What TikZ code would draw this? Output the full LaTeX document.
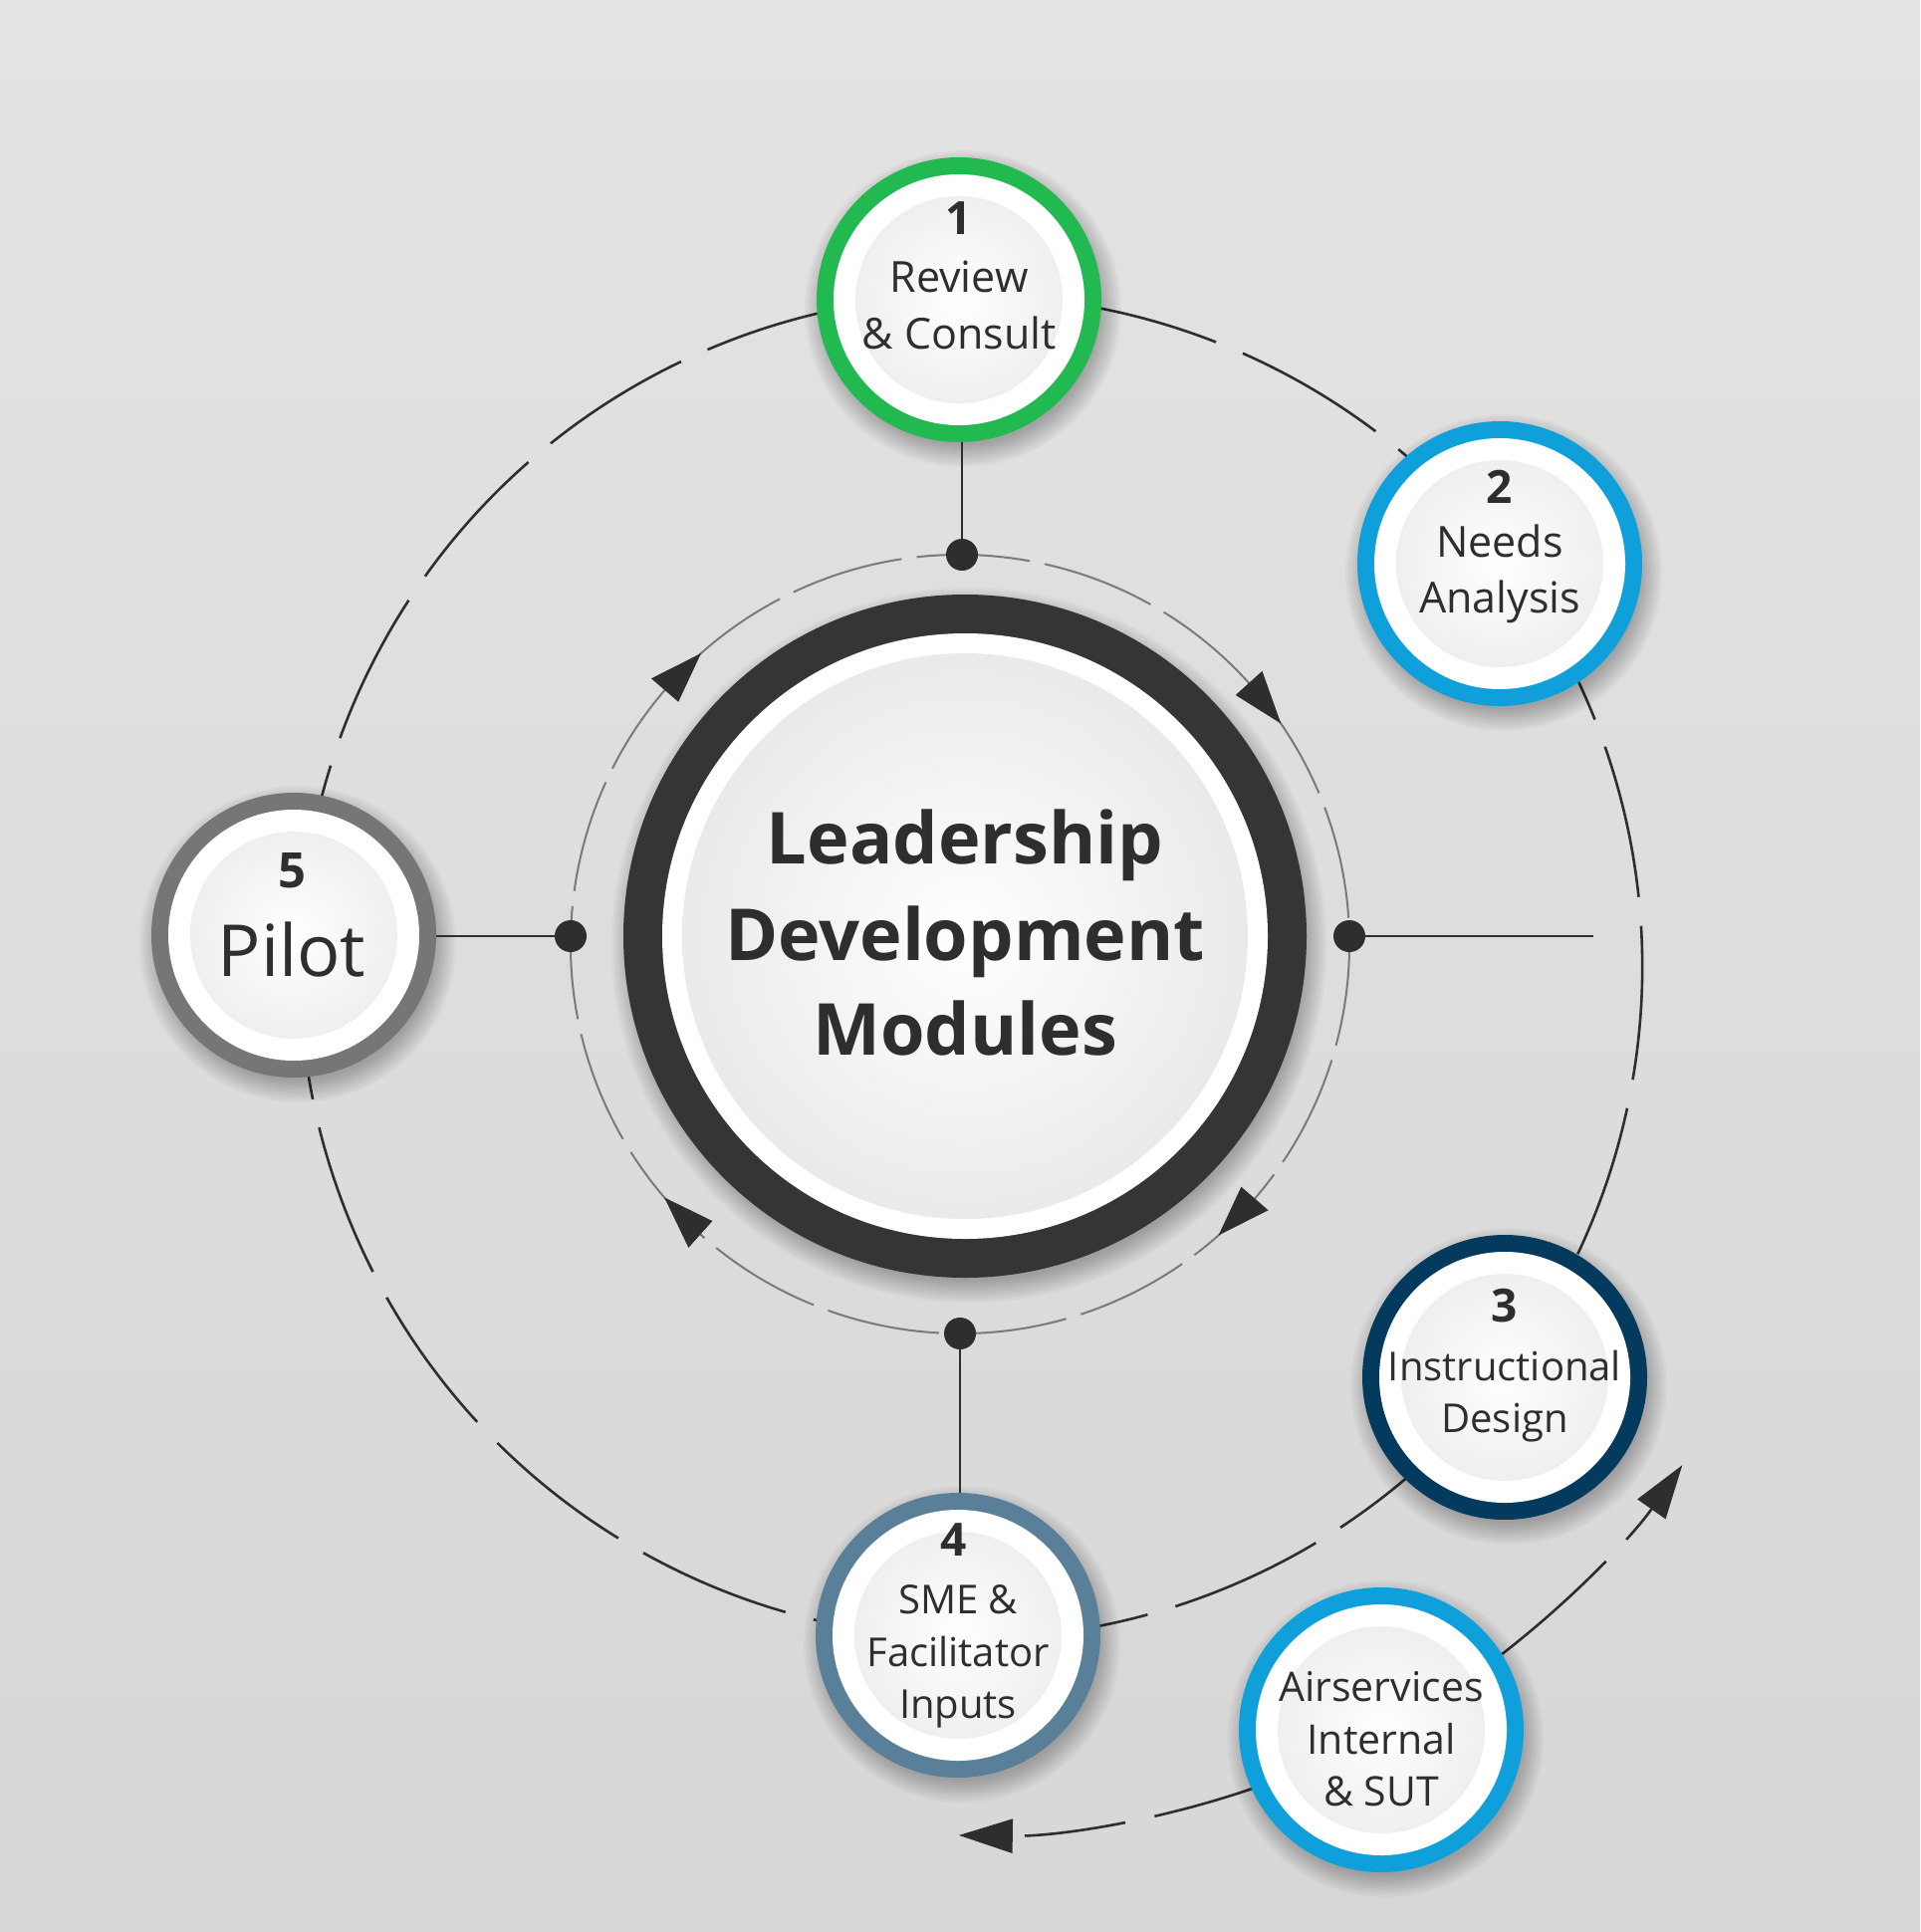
\documentclass[tikz,border=0pt]{standalone}
\usepackage{fontspec}
\setmainfont{Open Sans}
\usetikzlibrary{arrows.meta,calc}
\definecolor{bgtop}{HTML}{E3E3E3}
\definecolor{bgbot}{HTML}{D7D7D7}
\definecolor{ink}{HTML}{2E2E2E}
\definecolor{cgreen}{HTML}{22B950}
\definecolor{cblue}{HTML}{0FA0DC}
\definecolor{cnavy}{HTML}{033A5E}
\definecolor{csteel}{HTML}{5A7F99}
\definecolor{cgray}{HTML}{767676}
\definecolor{ringdark}{HTML}{353535}
\definecolor{diskedge}{HTML}{EFEFEF}
\definecolor{hubedge}{HTML}{EAEAEA}
\definecolor{dashgray}{HTML}{7A7A7A}
\tikzset{
  stepring/.style={circle, minimum size=286pt, inner sep=0pt, fill=#1},
  dotnode/.style={circle, minimum size=32pt, inner sep=0pt, fill=ink},
  link/.style={draw=ink, line width=1.6pt},
  orbit/.style={draw=ink, line width=2.6pt},
  innerorbit/.style={draw=dashgray, line width=2pt},
  numtxt/.style={font=\bfseries\fontsize{46}{46}\selectfont, text=ink, anchor=base, inner sep=0pt},
  steptxt/.style={font=\fontsize{#1}{#1}\selectfont, text=ink, anchor=base, inner sep=0pt},
  steptxt/.default=43,
  titletxt/.style={font=\bfseries\fontsize{72}{72}\selectfont, text=ink, anchor=base, inner sep=0pt},
  headtip/.style={-{Triangle[length=54pt,width=34pt]}},
}
\newcommand\softshadow[3]{%
  \foreach \k in {1,...,12}{\fill[black,opacity=0.022] (#1+4,#2-9) circle[radius={#3-8+2*\k}];}}
\newcommand\stepdisk[4]{%
  \softshadow{#2}{#3}{143}
  \node[stepring=#4] (#1) at (#2,#3) {};
  \fill[white] (#1.center) circle[radius=126pt];
  \shade[inner color=white, outer color=diskedge] (#1.center) circle[radius=104pt];
}
\begin{document}
\begin{tikzpicture}[x=1pt,y=1pt]
\shade[top color=bgtop, bottom color=bgbot] (0,0) rectangle (1928,-1940);
\useasboundingbox (0,0) rectangle (1928,-1940);
\coordinate (O) at (975,-971);
\coordinate (IC) at (964,-948);
% outer orbit
\draw[orbit, dash pattern=on 155pt off 29.12pt] ([shift={(113.06:674)}]O) arc[start angle=113.06, end angle=-246.94, radius=674];
% external arcs
\draw[orbit, dash pattern=on 140pt off 30pt, headtip] ([shift={(-52.3:872)}]O) arc[start angle=-52.3, end angle=-35, radius=872];
\draw[orbit, dash pattern=on 102pt off 30pt, headtip] ([shift={(-71.1:872)}]O) arc[start angle=-71.1, end angle=-90.8, radius=872];
% inner orbit
\draw[innerorbit, dash pattern=on 114pt off 15.3pt] ([shift={(77.4:391)}]IC) arc[start angle=77.4, end angle=-282.6, radius=391];
\foreach \a in {34.5,-48.4,-139.4,131.7}
  \fill[ink] ([shift={(\a:391)}]IC) -- ([shift={({\a+7.6}:373)}]IC) -- ([shift={({\a+7.6}:409)}]IC) -- cycle;
% hub
\softshadow{969}{-940}{343}
\node[circle, minimum size=686pt, inner sep=0pt, fill=ringdark] (hub) at (969,-940) {};
\fill[white] (hub.center) circle[radius=304pt];
\shade[inner color=white, outer color=hubedge] (hub.center) circle[radius=284pt];
% steps
\stepdisk{s1}{963}{-301}{cgreen}
\stepdisk{s2}{1506}{-566}{cblue}
\stepdisk{s3}{1511}{-1383}{cnavy}
\stepdisk{s4}{962}{-1642}{csteel}
\stepdisk{s5}{295}{-939}{cgray}
\stepdisk{s6}{1387}{-1737}{cblue}
% dots and links
\node[dotnode] (d1) at (966,-557) {};
\node[dotnode] (d2) at (1355,-940) {};
\node[dotnode] (d3) at (964,-1339) {};
\node[dotnode] (d4) at (573,-940) {};
\coordinate (e2) at (1600,-940);
\draw[link] (d1) -- (d1 |- s1.south);
\draw[link] (d3) -- (d3 |- s4.north);
\draw[link] (d4) -- (d4 -| s5.east);
\draw[link] (d2) -- (e2);
% texts
\node[titletxt] (h1) at (969,-867) {Leadership};
\node[titletxt] (h2) at (969,-964) {Development};
\node[titletxt] (h3) at (969,-1059) {Modules};
\node[numtxt] (n1) at (963,-235) {1};
\node[steptxt] (t1a) at (963,-293) {Review};
\node[steptxt] (t1b) at (963,-350) {\& Consult};
\node[numtxt] (n2) at (1506,-505) {2};
\node[steptxt] (t2a) at (1506,-559) {Needs};
\node[steptxt] (t2b) at (1506,-615) {Analysis};
\node[numtxt] (n3) at (1511,-1327) {3};
\node[steptxt=40] (t3a) at (1511,-1386) {Instructional};
\node[steptxt=40] (t3b) at (1511,-1438) {Design};
\node[numtxt] (n4) at (958,-1562) {4};
\node[steptxt=40] (t4a) at (962,-1620) {SME \&};
\node[steptxt=40] (t4b) at (962,-1673) {Facilitator};
\node[steptxt=40] (t4c) at (962,-1725) {Inputs};
\node[numtxt, font=\bfseries\fontsize{49}{49}\selectfont] (n5) at (293,-891) {5};
\node[steptxt=72] (t5a) at (293,-980) {Pilot};
\node[steptxt=41] (t6a) at (1387,-1708) {Airservices};
\node[steptxt=41] (t6b) at (1387,-1761) {Internal};
\node[steptxt=41] (t6c) at (1387,-1813) {\& SUT};
\end{tikzpicture}
\end{document}
